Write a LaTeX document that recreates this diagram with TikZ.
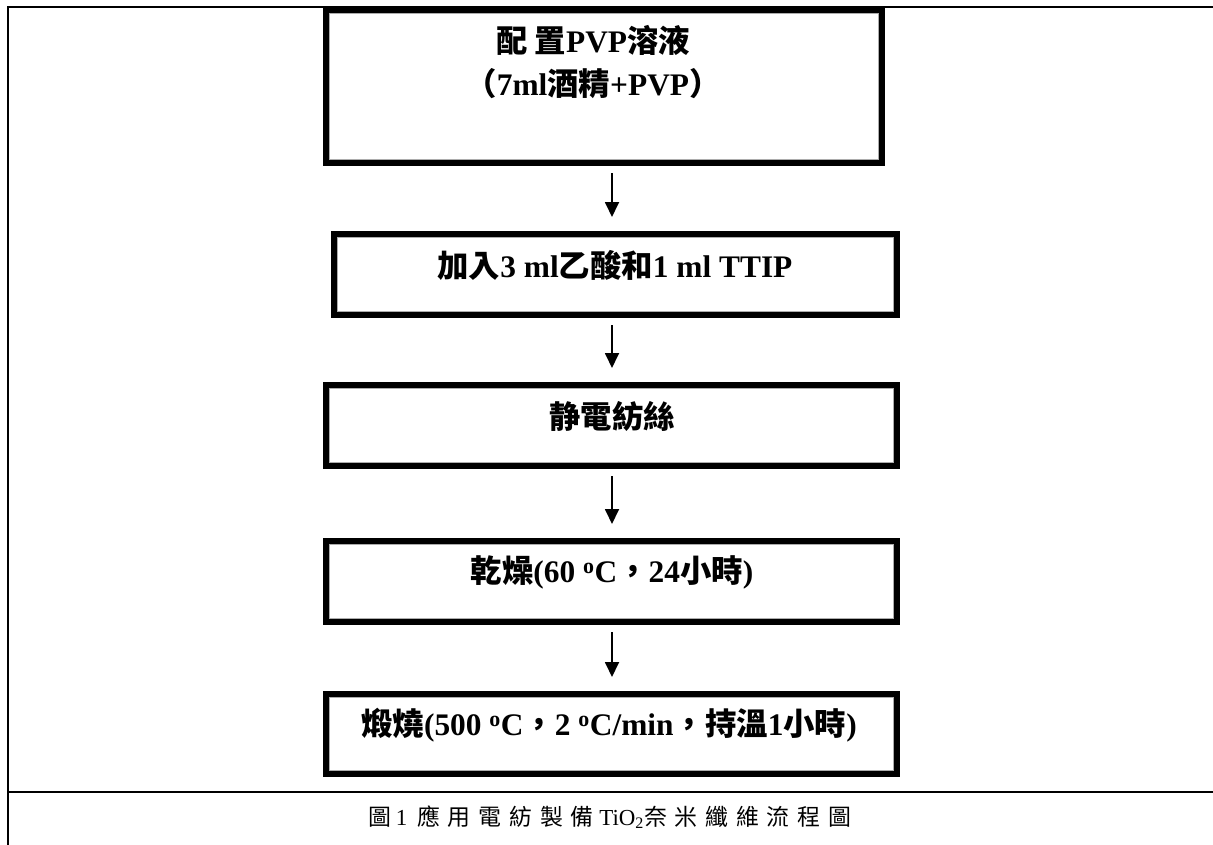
\documentclass[tikz,border=0pt]{standalone}
\usepackage{fontspec}
\setmainfont{Liberation Serif}
\newfontfamily\cjk{Noto Sans CJK TC}
\newfontfamily\cjkcap[LetterSpace=34]{Noto Sans CJK TC}
\usetikzlibrary{arrows.meta,calc}
\newcommand{\zh}[1]{{\cjk #1}}
\newcommand{\degsym}{\textsuperscript{o}}
\begin{document}
\begin{tikzpicture}[x=1bp,y=-1bp,
  framebox/.style={draw=black, line width=5.8bp, inner sep=0pt, outer sep=2.9bp,
    path picture={\draw[gray!65,line width=1.2bp]
      ($(path picture bounding box.north west)+(3.5,3.5)$) rectangle
      ($(path picture bounding box.south east)+(-3.5,-3.5)$);}},
  steptext/.style={inner sep=0pt, align=center, font=\fontsize{31.5}{44}\selectfont\bfseries},
  captext/.style={inner sep=0pt, font=\fontsize{23}{28}\selectfont},
  arr/.style={-{Triangle[width=14bp,length=15bp]}, line width=1.8bp},
  rule/.style={line width=2bp}]
\useasboundingbox (0,0) rectangle (1213,845);
% frame
\draw[rule] (8,845) -- (8,7) -- (1213,7);
\draw[rule] (8,792) -- (1213,792);
% boxes
\node[framebox, minimum width=556.2bp, minimum height=153.2bp] (b1) at (604,86.5) {};
\node[framebox, minimum width=563.2bp, minimum height=81.2bp] (b2) at (615.5,274.5) {};
\node[framebox, minimum width=571.2bp, minimum height=81.2bp] (b3) at (611.5,425.5) {};
\node[framebox, minimum width=571.2bp, minimum height=81.2bp] (b4) at (611.5,581.5) {};
\node[framebox, minimum width=571.2bp, minimum height=80.2bp] (b5) at (611.5,734) {};
% texts
\node[steptext] (t1) at (593,62) {\zh{配 置}PVP\zh{溶液}\\\zh{（}7ml\zh{酒精}+PVP\zh{）}};
\node[steptext] (t2) at (615,265) {\zh{加入}3 ml\zh{乙酸和}1 ml TTIP};
\node[steptext] (t3) at (612,416) {\zh{静電紡絲}};
\node[steptext] (t4) at (612,572) {\zh{乾燥}(60 \degsym C\zh{，}24\zh{小時})};
\node[steptext] (t5) at (609,725) {\zh{煅燒}(500 \degsym C\zh{，}2 \degsym C/min\zh{，持溫}1\zh{小時})};
% caption
\node[captext] (cap) at (610,817) {{\cjkcap 圖}\hspace{4bp}1\hspace{10bp}{\cjkcap 應用電紡製備} TiO\textsubscript{2}{\cjkcap 奈米纖維流程圖}};
% arrows
\coordinate (ax) at (612,0);
\draw[arr] ($(b1.south -| ax)+(0,7)$) -- ($(b2.north -| ax)+(0,-14)$);
\draw[arr] ($(b2.south -| ax)+(0,7)$) -- ($(b3.north -| ax)+(0,-14)$);
\draw[arr] ($(b3.south -| ax)+(0,7)$) -- ($(b4.north -| ax)+(0,-14)$);
\draw[arr] ($(b4.south -| ax)+(0,7)$) -- ($(b5.north -| ax)+(0,-14)$);
\end{tikzpicture}
\end{document}
